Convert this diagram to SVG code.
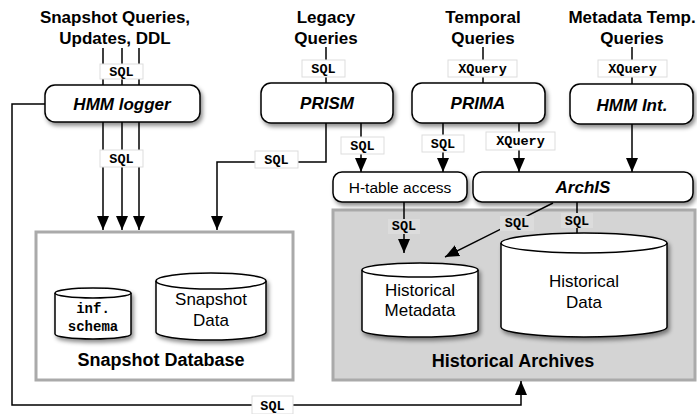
<svg xmlns="http://www.w3.org/2000/svg" width="697" height="414" viewBox="0 0 697 414">
<defs>
<filter id="sh" x="-20%" y="-20%" width="140%" height="160%">
<feDropShadow dx="2" dy="3" stdDeviation="2" flood-color="#000" flood-opacity="0.45"/>
</filter>
<marker id="ah" markerUnits="userSpaceOnUse" markerWidth="14" markerHeight="16" viewBox="0 0 14 12" refX="14" refY="6" orient="auto">
<path d="M0,0 L14,6 L0,12 Z" fill="#000"/>
</marker>
<style>
.ttl{font-family:"Liberation Sans",Arial,sans-serif;font-weight:bold;font-size:17px;text-anchor:middle;fill:#000}
.nd{fill:#fff;stroke:#000;stroke-width:1.5}
.nt{font-family:"Liberation Sans",Arial,sans-serif;font-weight:bold;font-style:italic;font-size:17px;text-anchor:middle;fill:#000}
.nr{font-family:"Liberation Sans",Arial,sans-serif;font-size:15.5px;text-anchor:middle;fill:#000}
.cy{fill:#fff;stroke:#000;stroke-width:1.5}
.ct{font-family:"Liberation Sans",Arial,sans-serif;font-size:17px;text-anchor:middle;fill:#000}
.mono{font-family:"Liberation Mono","Courier New",monospace;font-weight:bold;font-size:14px;text-anchor:middle;fill:#000}
.lb{fill:#fff;stroke:#ddd;stroke-width:1}
.lbg{fill:#dcdcdc;stroke:none}
.lt{font-family:"Liberation Mono","Courier New",monospace;font-weight:bold;font-size:13.5px;text-anchor:middle;fill:#000}
.ln{fill:none;stroke:#000;stroke-width:1.5}
.big{font-family:"Liberation Sans",Arial,sans-serif;font-weight:bold;font-size:18px;text-anchor:middle;fill:#000}
</style>
</defs>

<g id="titles">
<text class="ttl" x="115" y="23">Snapshot Queries,</text>
<text class="ttl" x="115" y="44">Updates, DDL</text>
<text class="ttl" x="326" y="23">Legacy</text>
<text class="ttl" x="326" y="44">Queries</text>
<text class="ttl" x="483" y="23">Temporal</text>
<text class="ttl" x="483" y="44">Queries</text>
<text class="ttl" x="632" y="23">Metadata Temp.</text>
<text class="ttl" x="632" y="44">Queries</text>
</g>

<g id="snapshot-database">
<rect x="36" y="232" width="257" height="148" fill="#fff" stroke="#aaa" stroke-width="3"/>
<text class="big" x="161" y="366">Snapshot Database</text>
</g>

<g id="historical-archives">
<rect x="333" y="210" width="362" height="170" fill="#d4d4d4" stroke="#aaa" stroke-width="3"/>
<text class="big" x="513" y="367">Historical Archives</text>
</g>

<g id="connectors">
<path class="ln" d="M103,48 V85 M122,48 V85 M139,48 V85"/>
<rect class="lb" x="100" y="64" width="43" height="15"/>
<text class="lt" x="121.5" y="76">SQL</text>
<path class="ln" d="M103,122 V230" marker-end="url(#ah)"/>
<path class="ln" d="M122,122 V230" marker-end="url(#ah)"/>
<path class="ln" d="M139,122 V230" marker-end="url(#ah)"/>
<rect class="lb" x="100" y="150" width="43" height="17"/>
<text class="lt" x="121.5" y="163">SQL</text>
<path class="ln" d="M45,104 H12 V405 H521 V381" marker-end="url(#ah)"/>
<rect class="lb" x="252" y="396" width="41" height="18"/>
<text class="lt" x="272.5" y="410">SQL</text>
<path class="ln" d="M326,47 V83"/>
<rect class="lb" x="302" y="60" width="43" height="17"/>
<text class="lt" x="323.5" y="73">SQL</text>
<path class="ln" d="M326,123 V162 H217 V230" marker-end="url(#ah)"/>
<rect class="lb" x="255" y="151" width="43" height="17"/>
<text class="lt" x="276.5" y="164">SQL</text>
<path class="ln" d="M361,123 V172" marker-end="url(#ah)"/>
<rect class="lb" x="341" y="137" width="43" height="17"/>
<text class="lt" x="362.5" y="150">SQL</text>
<path class="ln" d="M483,47 V83"/>
<rect class="lb" x="448" y="60" width="69" height="17"/>
<text class="lt" x="482.5" y="73">XQuery</text>
<path class="ln" d="M443,123 V172" marker-end="url(#ah)"/>
<rect class="lb" x="422" y="135" width="42" height="17"/>
<text class="lt" x="443" y="148">SQL</text>
<path class="ln" d="M519,123 V172" marker-end="url(#ah)"/>
<rect class="lb" x="486" y="132" width="69" height="18"/>
<text class="lt" x="520.5" y="145">XQuery</text>
<path class="ln" d="M632,47 V84"/>
<rect class="lb" x="598" y="60" width="69" height="17"/>
<text class="lt" x="632.5" y="73">XQuery</text>
<path class="ln" d="M632,124 V172" marker-end="url(#ah)"/>
<path class="ln" d="M404,202 V253" marker-end="url(#ah)"/>
<rect class="lbg" x="388" y="219" width="32" height="15"/>
<text class="lt" x="404" y="230">SQL</text>
<path class="ln" d="M577,202 V248" marker-end="url(#ah)"/>
<rect class="lbg" x="561" y="213" width="32" height="15"/>
<text class="lt" x="577" y="225">SQL</text>
<path class="ln" d="M553,203 L445,257" marker-end="url(#ah)"/>
<rect class="lbg" x="500" y="216" width="34" height="15"/>
<text class="lt" x="517" y="227">SQL</text>
</g>

<g id="hmm-logger">
<rect class="nd" x="45" y="85" width="155" height="37" rx="10" filter="url(#sh)"/>
<text class="nt" x="122" y="110">HMM logger</text>
</g>
<g id="prism">
<rect class="nd" x="261" y="83" width="132" height="40" rx="10" filter="url(#sh)"/>
<text class="nt" x="327" y="109">PRISM</text>
</g>
<g id="prima">
<rect class="nd" x="412" y="83" width="133" height="40" rx="10" filter="url(#sh)"/>
<text class="nt" x="478" y="109">PRIMA</text>
</g>
<g id="hmm-int">
<rect class="nd" x="570" y="84" width="123" height="40" rx="10" filter="url(#sh)"/>
<text class="nt" x="632" y="111">HMM Int.</text>
</g>
<g id="h-table-access">
<rect class="nd" x="333" y="172" width="134" height="30" rx="9" filter="url(#sh)"/>
<text class="nr" x="400" y="193">H-table access</text>
</g>
<g id="archis">
<rect class="nd" x="473" y="172" width="220" height="30" rx="9" filter="url(#sh)"/>
<text class="nt" x="583" y="193">ArchIS</text>
</g>

<g id="inf-schema">
<path class="cy" filter="url(#sh)" d="M55,293 A38,5 0 0 1 131,293 V334 A38,5 0 0 1 55,334 Z"/>
<path class="ln" d="M55,293 A38,5 0 0 0 131,293"/>
<text class="mono" x="93" y="313">inf.</text>
<text class="mono" x="93" y="331">schema</text>
</g>
<g id="snapshot-data">
<path class="cy" filter="url(#sh)" d="M156,281 A55,8 0 0 1 266,281 V332 A55,8 0 0 1 156,332 Z"/>
<path class="ln" d="M156,281 A55,8 0 0 0 266,281"/>
<text class="ct" x="211" y="305">Snapshot</text>
<text class="ct" x="211" y="326">Data</text>
</g>
<g id="historical-metadata">
<path class="cy" filter="url(#sh)" d="M362,270 A58,7 0 0 1 478,270 V330 A58,7 0 0 1 362,330 Z"/>
<path class="ln" d="M362,270 A58,7 0 0 0 478,270"/>
<text class="ct" x="420" y="296">Historical</text>
<text class="ct" x="420" y="316">Metadata</text>
</g>
<g id="historical-data">
<path class="cy" filter="url(#sh)" d="M501,243 A83,10 0 0 1 667,243 V327 A83,10 0 0 1 501,327 Z"/>
<path class="ln" d="M501,243 A83,10 0 0 0 667,243"/>
<text class="ct" x="584" y="287">Historical</text>
<text class="ct" x="584" y="308">Data</text>
</g>
</svg>
